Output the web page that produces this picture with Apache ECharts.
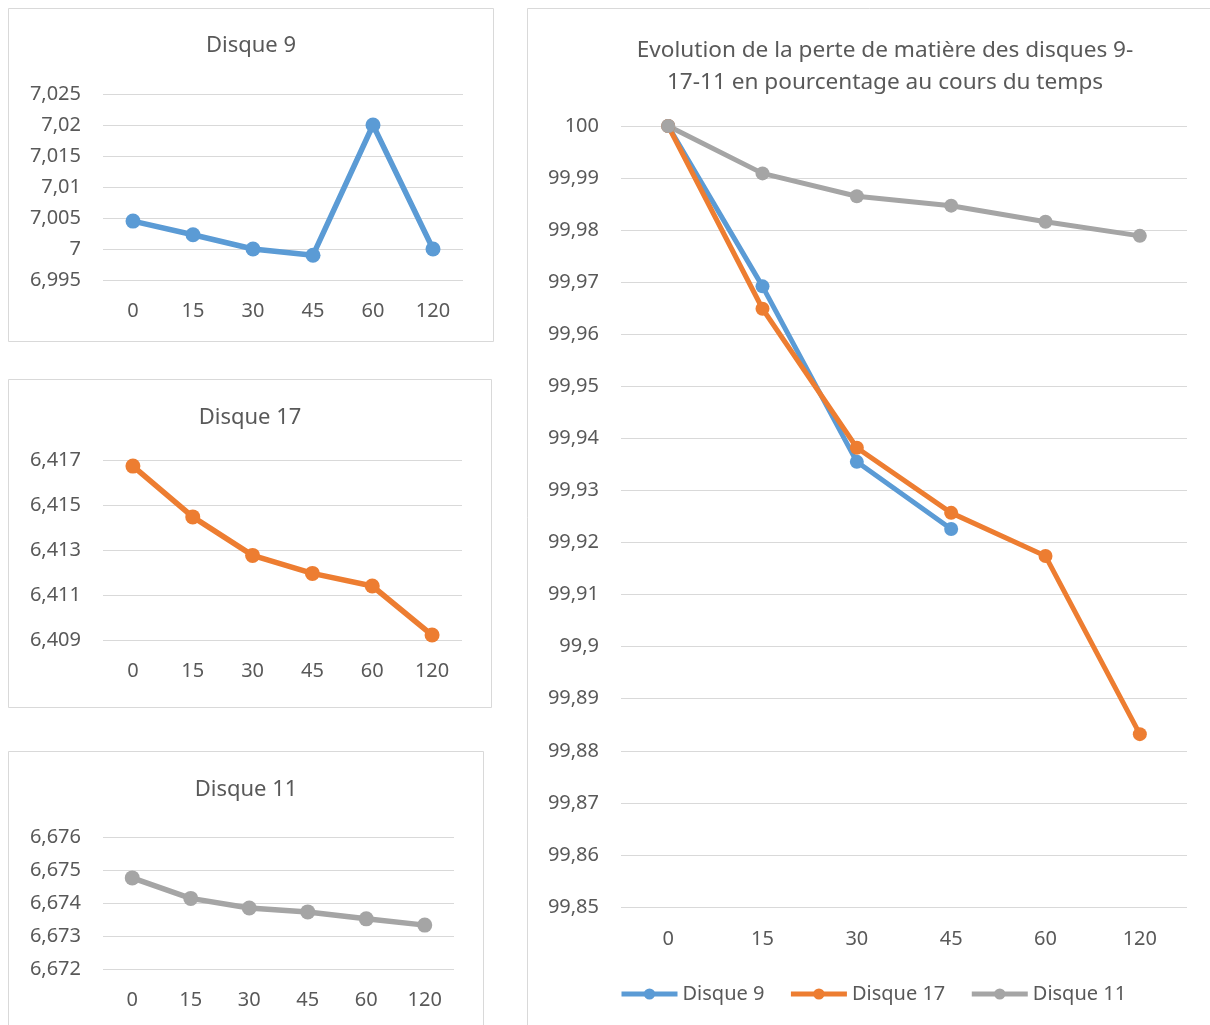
<!DOCTYPE html>
<html>
<head>
<meta charset="utf-8">
<script src="https://cdn.jsdelivr.net/npm/echarts@6/dist/echarts.min.js"></script>
<style>
html,body{margin:0;padding:0;background:#fff;}
#c{width:1210px;height:1025px;}
</style>
</head>
<body>
<div id="c"></div>
<script>
const categories = ['0', '15', '30', '45', '60', '120'];
const disque9 = [7.0045, 7.0023, 7.0000, 6.9990, 7.0200, 7.0000];
const disque17 = [6.41673, 6.41447, 6.41276, 6.41196, 6.4114, 6.40922];
const disque11 = [6.67476, 6.67414, 6.67385, 6.67373, 6.67352, 6.67333];
const pct9 = [100, 99.9692, 99.9355, 99.9226, null, null];
const pct17 = [100, 99.9649, 99.9382, 99.9257, 99.9174, 99.8832];
const pct11 = [100, 99.9909, 99.9865, 99.9847, 99.9816, 99.9789];
const seriesNames = ['Disque 9', 'Disque 17', 'Disque 11'];
const mainTitle = 'Evolution de la perte de matière des disques 9-\n17-11 en pourcentage au cours du temps';

const FONT = "'Noto Sans', 'Open Sans', sans-serif";
const TXT = '#595959';
const GRID = '#d9d9d9';
const COLORS = ['#5B9BD5', '#ED7D31', '#A5A5A5'];

function fmt(dec) {
  return v => String(+(+v).toFixed(dec)).replace('.', ',');
}
function xAxis(idx, margin) {
  return {
    type: 'category', gridIndex: idx, data: categories, boundaryGap: true,
    axisLine: {show: false}, axisTick: {show: false},
    axisLabel: {color: TXT, fontFamily: FONT, fontSize: 20, margin: margin}
  };
}
function yAxis(idx, min, max, interval, dec) {
  return {
    type: 'value', gridIndex: idx, min: min, max: max, interval: interval,
    axisLine: {show: false}, axisTick: {show: false},
    splitLine: {lineStyle: {color: GRID, width: 1}},
    axisLabel: {color: TXT, fontFamily: FONT, fontSize: 20, margin: 22, formatter: fmt(dec)}
  };
}
function line(name, data, idx, color, lw, ss) {
  return {
    type: 'line', name: name, data: data, xAxisIndex: idx, yAxisIndex: idx,
    symbol: 'circle', symbolSize: ss, showSymbol: true, connectNulls: false,
    lineStyle: {color: color, width: lw}, itemStyle: {color: color},
    emphasis: {disabled: true}
  };
}
function boxText(x, y, text, size) {
  return {
    type: 'text', x: x, y: y,
    style: {text: text, fill: TXT, font: size + 'px ' + FONT, textAlign: 'center', textVerticalAlign: 'middle', lineHeight: 32}
  };
}
function rect(x, y, w, h) {
  return {type: 'rect', shape: {x: x, y: y, width: w, height: h}, style: {fill: 'none', stroke: GRID, lineWidth: 1}, silent: true};
}

const chart = echarts.init(document.getElementById('c'));
chart.setOption({
  animation: false,
  backgroundColor: '#fff',
  grid: [
    {left: 103, top: 94, width: 360, height: 186},
    {left: 103, top: 460, width: 359, height: 180},
    {left: 103, top: 837, width: 351, height: 132},
    {left: 621, top: 126, width: 566, height: 781}
  ],
  xAxis: [xAxis(0, 21), xAxis(1, 21), xAxis(2, 21), xAxis(3, 22)],
  yAxis: [
    yAxis(0, 6.995, 7.025, 0.005, 3),
    yAxis(1, 6.409, 6.417, 0.002, 3),
    yAxis(2, 6.672, 6.676, 0.001, 3),
    yAxis(3, 99.85, 100, 0.01, 2)
  ],
  legend: {
    data: seriesNames, left: 614, top: 979, itemWidth: 56, itemHeight: 14, itemGap: 24,
    lineStyle: {width: 5},
    textStyle: {color: TXT, fontFamily: FONT, fontSize: 20}
  },
  series: [
    line(seriesNames[0], pct9, 3, COLORS[0], 5, 14),
    line(seriesNames[1], pct17, 3, COLORS[1], 5, 14),
    line(seriesNames[2], pct11, 3, COLORS[2], 5, 14),
    line('D9', disque9, 0, COLORS[0], 5.5, 15),
    line('D17', disque17, 1, COLORS[1], 5.5, 15),
    line('D11', disque11, 2, COLORS[2], 5.5, 15)
  ],
  graphic: [
    rect(8.5, 8.5, 485, 333),
    rect(8.5, 379.5, 483, 328),
    rect(8.5, 751.5, 475, 300),
    rect(527.5, 8.5, 700, 1030),
    boxText(251, 46, 'Disque 9', 22),
    boxText(250, 418, 'Disque 17', 22),
    boxText(246, 790, 'Disque 11', 22),
    boxText(885, 67, mainTitle, 22.6)
  ]
});
</script>
</body>
</html>
